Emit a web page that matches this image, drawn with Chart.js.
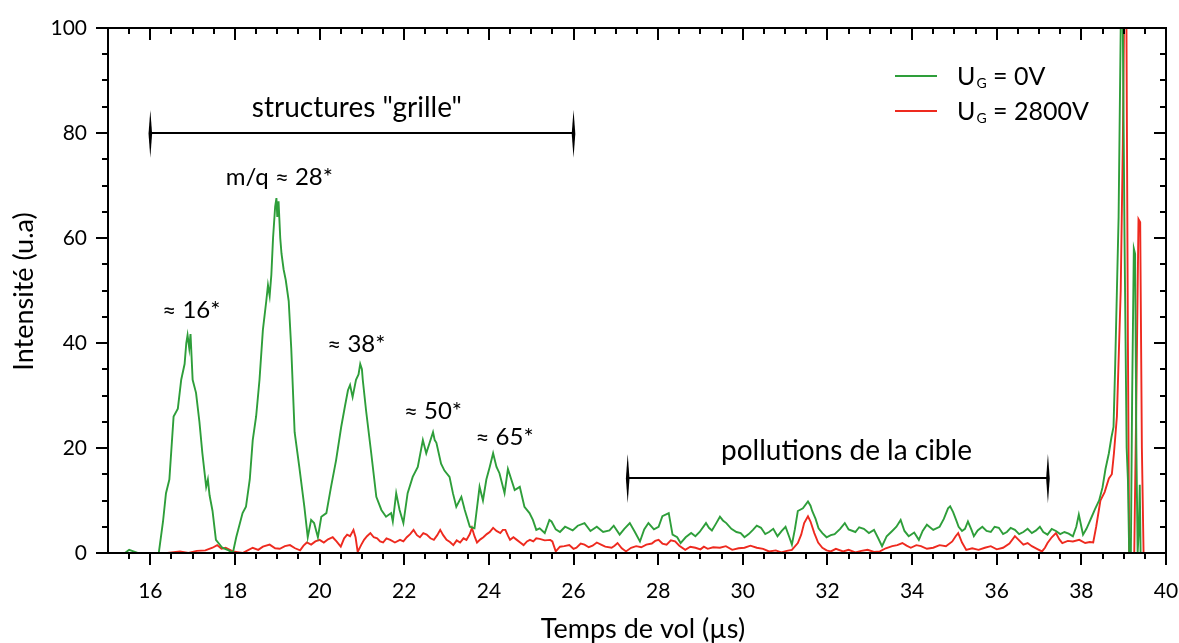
<!DOCTYPE html>
<html>
<head>
<meta charset="utf-8">
<script src="https://cdn.jsdelivr.net/npm/chart.js@4.4.1/dist/chart.umd.min.js"></script>
<style>
  html, body { margin: 0; padding: 0; background: #fff; }
  #c { display: block; }
</style>
</head>
<body>
<canvas id="c" width="1179" height="643" style="width:1179px;height:643px"></canvas>
<script>
/* ════════════════════════════════════
   DATA
════════════════════════════════════ */

const xTicks = [16, 18, 20, 22, 24, 26, 28, 30, 32, 34, 36, 38, 40];
const yTicks = [0, 20, 40, 60, 80, 100];

// U_G = 0V (green)
const greenT = [
  15.0, 15.4, 15.5, 15.6, 15.7, 16.2, 16.3, 16.37, 16.45, 16.55, 16.65, 16.73, 16.81, 16.85, 16.88, 16.92, 16.95, 17.0,
  17.08, 17.16, 17.23, 17.32, 17.36, 17.4, 17.47, 17.55, 17.7, 17.85, 17.95, 18.03, 18.18, 18.26, 18.35, 18.42, 18.5,
  18.58, 18.66, 18.74, 18.78, 18.82, 18.86, 18.9, 18.95, 18.98, 19.0, 19.03, 19.07, 19.1, 19.15, 19.2, 19.27, 19.33,
  19.41, 19.52, 19.64, 19.72, 19.8, 19.87, 19.96, 20.04, 20.16, 20.27, 20.39, 20.51, 20.6, 20.67, 20.72, 20.78, 20.86,
  20.92, 20.96, 21.0, 21.02, 21.1, 21.22, 21.34, 21.46, 21.57, 21.69, 21.73, 21.81, 21.89, 21.98, 22.08, 22.2, 22.32,
  22.44, 22.52, 22.6, 22.68, 22.72, 22.76, 22.87, 22.95, 23.07, 23.15, 23.23, 23.35, 23.43, 23.55, 23.66, 23.78, 23.86,
  23.94, 24.02, 24.1, 24.18, 24.25, 24.37, 24.45, 24.53, 24.61, 24.73, 24.84, 24.96, 25.04, 25.12, 25.2, 25.32, 25.43,
  25.48, 25.58, 25.68, 25.8, 25.98, 26.1, 26.26, 26.4, 26.55, 26.7, 26.85, 26.95, 27.09, 27.2, 27.33, 27.45, 27.57,
  27.67, 27.77, 27.9, 28.01, 28.1, 28.25, 28.34, 28.45, 28.53, 28.65, 28.78, 28.88, 28.98, 29.13, 29.2, 29.27, 29.36,
  29.46, 29.53, 29.61, 29.73, 29.85, 29.95, 30.04, 30.14, 30.24, 30.33, 30.43, 30.53, 30.62, 30.72, 30.82, 30.92, 31.01,
  31.1, 31.16, 31.23, 31.3, 31.42, 31.54, 31.6, 31.64, 31.72, 31.79, 31.88, 31.98, 32.08, 32.17, 32.3, 32.41, 32.5,
  32.66, 32.75, 32.86, 32.98, 33.1, 33.2, 33.29, 33.4, 33.53, 33.63, 33.73, 33.82, 33.92, 34.05, 34.16, 34.25, 34.35,
  34.5, 34.65, 34.75, 34.85, 34.9, 34.97, 35.04, 35.1, 35.18, 35.25, 35.32, 35.4, 35.46, 35.55, 35.66, 35.76, 35.86,
  35.95, 36.05, 36.15, 36.24, 36.33, 36.43, 36.53, 36.63, 36.73, 36.83, 36.93, 37.02, 37.1, 37.2, 37.3, 37.4, 37.5,
  37.6, 37.7, 37.8, 37.88, 37.94, 38.0, 38.04, 38.12, 38.18, 38.25, 38.32, 38.42, 38.5, 38.57, 38.65, 38.71, 38.76,
  38.8, 38.84, 38.88, 38.93, 38.97, 39.02, 39.07, 39.1, 39.13, 39.17, 39.2, 39.24, 39.27, 39.3, 39.33, 39.36, 39.38, 39.4
];
const greenV = [
  0, 0, 0.6, 0.3, 0, 0, 6, 11.4, 14, 26, 27.5, 33, 36, 40, 41.5, 39, 41.7, 33,
  30.5, 25, 19, 12.6, 14, 11, 8, 2.5, 1, 0.5, 0, 3, 7.6, 8.8, 14, 21.5, 26,
  33, 42.5, 48, 51, 49, 53, 60, 66, 67.6, 64, 67, 60, 57, 54, 52, 48, 39,
  23, 16.4, 8.8, 3, 6.3, 5.7, 3, 6.9, 7.6, 12.6, 17.7, 24, 28, 31, 32, 29.7, 33,
  34, 36, 35, 33, 27, 19, 10.7, 8.2, 6.9, 7.6, 6, 11.4, 8.2, 5.7, 11.4, 14.5, 16.4,
  21.5, 19, 21, 23, 21.5, 21, 17, 15.7, 14.5, 11.4, 8.8, 10.7, 8.2, 5, 4.7, 12.6, 10,
  14, 16.4, 19, 16.4, 15.2, 11.4, 16, 14, 12, 12.6, 8.8, 7.6, 6.3, 4.4, 4.7, 3.8, 6.3,
  6, 4.5, 4, 5, 4.3, 5.2, 5.7, 4.2, 5, 4, 4.3, 5.2, 3.5, 4.6, 5.7, 4, 2.2,
  4.5, 5.7, 4.5, 5, 7, 7.6, 3.5, 3, 1.9, 3, 3.8, 3.2, 4, 5.7, 4.8, 4.3, 5.5,
  6.9, 6.2, 5.7, 4.6, 4, 3.8, 3, 3.6, 4.4, 5.2, 4.8, 3.6, 4, 4.6, 3.2, 4.2, 5,
  3, 1.6, 4.5, 8, 8.5, 9.8, 9, 8, 6.5, 4.7, 3.8, 3, 3.4, 3.6, 4.6, 5.7, 4.5,
  4, 4.9, 4.6, 3.8, 4.4, 2.8, 1.3, 3.2, 4.2, 5, 6.3, 4.2, 3.2, 3.9, 2.5, 4.2, 5.4,
  4.4, 5, 6.5, 8.5, 8.9, 7.8, 6.3, 5, 4.2, 4.6, 6, 4.5, 3.2, 4.3, 5, 4.2, 4,
  5, 4.8, 3.6, 4, 4.8, 4.4, 3.6, 4, 4.6, 3.8, 4.3, 5, 4, 3.5, 4.6, 4.2, 3.6,
  4, 3.7, 3.2, 5, 7.3, 5, 3.5, 4.6, 5.7, 7, 8.3, 10, 12.5, 16, 19, 22, 24,
  36, 50, 64, 100, 110, 60, 20, 14, 0, 0, 30, 58, 57, 20, 0, 5, 13, 0
];

// U_G = 2800V (red)
const redT = [
  16.4, 16.7, 16.9, 17.1, 17.3, 17.47, 17.58, 17.68, 17.78, 17.95, 18.18, 18.3, 18.42, 18.55, 18.66, 18.82, 18.95,
  19.06, 19.18, 19.3, 19.42, 19.54, 19.62, 19.7, 19.8, 19.9, 20.0, 20.1, 20.2, 20.31, 20.4, 20.5, 20.58, 20.65, 20.72,
  20.8, 20.85, 20.9, 20.98, 21.05, 21.12, 21.2, 21.28, 21.36, 21.43, 21.5, 21.58, 21.67, 21.78, 21.9, 21.98, 22.06,
  22.14, 22.22, 22.3, 22.37, 22.45, 22.53, 22.62, 22.7, 22.78, 22.85, 22.92, 23.0, 23.08, 23.16, 23.24, 23.32, 23.4,
  23.47, 23.55, 23.6, 23.66, 23.72, 23.8, 23.87, 23.95, 24.02, 24.1, 24.18, 24.27, 24.33, 24.39, 24.45, 24.5, 24.58,
  24.66, 24.74, 24.82, 24.9, 24.97, 25.05, 25.12, 25.2, 25.32, 25.45, 25.5, 25.58, 25.68, 25.78, 25.9, 26.0, 26.07,
  26.17, 26.26, 26.36, 26.45, 26.55, 26.65, 26.75, 26.9, 26.97, 27.04, 27.14, 27.24, 27.36, 27.48, 27.6, 27.72, 27.85,
  27.93, 28.01, 28.1, 28.2, 28.3, 28.4, 28.5, 28.64, 28.76, 28.88, 29.0, 29.08, 29.17, 29.3, 29.46, 29.6, 29.75, 29.9,
  30.04, 30.18, 30.33, 30.48, 30.62, 30.78, 30.91, 31.04, 31.16, 31.3, 31.38, 31.45, 31.54, 31.6, 31.69, 31.78, 31.88,
  31.98, 32.08, 32.2, 32.37, 32.5, 32.66, 32.8, 32.95, 33.1, 33.24, 33.38, 33.53, 33.65, 33.77, 33.87, 33.97, 34.1,
  34.21, 34.35, 34.5, 34.65, 34.8, 34.95, 35.03, 35.09, 35.18, 35.28, 35.42, 35.57, 35.72, 35.86, 36.0, 36.15, 36.3,
  36.43, 36.53, 36.63, 36.73, 36.83, 36.95, 37.07, 37.14, 37.2, 37.3, 37.4, 37.48, 37.55, 37.68, 37.8, 37.95, 38.09,
  38.2, 38.28, 38.35, 38.45, 38.55, 38.65, 38.72, 38.77, 38.84, 38.93, 38.98, 39.02, 39.06, 39.1, 39.13, 39.25, 39.3,
  39.35, 39.39, 39.43, 39.47
];
const redV = [
  0, 0.3, 0, 0.4, 0.5, 1, 1.5, 0.8, 1, 0.3, 0, 0.5, 1, 0.6, 1.2, 1.6, 0.9,
  0.8, 1.3, 1.5, 0.9, 0.5, 1.4, 2, 1.6, 2.2, 2.5, 2, 2.6, 3, 2.2, 1.2, 2.8, 3.5, 3.2,
  4.4, 3, 0.2, 1.5, 2.5, 3.2, 3.8, 3, 2.8, 2.2, 2, 2.8, 2.5, 2, 2.5, 2.2, 3,
  3.6, 4.4, 3.4, 3, 3.8, 3.5, 2.8, 2.5, 3.4, 4.4, 3.4, 2.5, 2.1, 1.5, 2.4, 2, 2.8,
  2.5, 3.6, 4.8, 3.2, 2, 2.6, 3, 3.6, 4, 4.8, 4.2, 3.8, 4.4, 4.4, 3.3, 2.5, 3,
  2.5, 2, 1.5, 2.2, 2.5, 2.2, 2.8, 2.7, 2.4, 2.5, 2.2, 0.3, 1.2, 1.3, 1.5, 0.8, 1,
  1.8, 1.6, 1.1, 1.4, 2, 1.6, 1.2, 1, 1.4, 1.9, 0.9, 0.3, 1, 1.3, 1.1, 1.6, 1.8,
  2.3, 2.5, 1.8, 1.6, 2.4, 2.2, 1.4, 0.6, 1.2, 1, 0.7, 1.2, 0.8, 1.1, 1, 1.3, 0.6, 0.9,
  1, 1.4, 1, 0.8, 0.3, 0.5, 0.1, 0.4, 0.6, 1.9, 3.5, 5.7, 7, 6, 3.8, 2, 1,
  0.5, 0.3, 0.8, 0.3, 0.6, 0.1, 0.4, 0.6, 0.2, 0.3, 0.9, 1.3, 1.5, 1.9, 1.4, 1, 1.5,
  1.3, 0.8, 1, 1.5, 1.3, 2.2, 3.2, 3.8, 2, 0.6, 0.9, 0.6, 1, 1.3, 0.7, 1, 1.8,
  3.2, 2.4, 1.6, 1.9, 1.3, 0.8, 0.3, 1, 1.9, 3, 3.8, 2.6, 1.9, 2.3, 2.2, 2.5, 1.9,
  2.1, 2, 5, 10, 11.6, 14.2, 15, 19, 26, 50, 78, 110, 110, 40, 0, 0, 30,
  63.6, 63, 20, 0
];

// text labels placed in data coordinates [text, t, value(baseline)]
const peakLabels = [
  ['m/q ≈ 28*', 19.05, 70.1],
  ['≈ 16*', 16.97, 44.8],
  ['≈ 38*', 20.87, 38.3],
  ['≈ 50*', 22.68, 25.5],
  ['≈ 65*', 24.37, 20.6]
];
const brackets = [
  { text: 'structures "grille"', from: 16.0, to: 26.0, at: 80, capLo: 75.3, capHi: 84.4, textT: 20.88, textV: 83 },
  { text: 'pollutions de la cible', from: 27.28, to: 37.21, at: 14.3, capLo: 9.5, capHi: 18.9, textT: 32.45, textV: 17.7 }
];

const GREEN = '#2E9E3A';
const RED = '#EE2A1F';
const FONT = 'Lato, "Open Sans", sans-serif';

/* ════════════════════════════════════
   DECORATION PLUGIN
════════════════════════════════════ */

function capShape(ctx, px, yTop, yBot) {
  const mid = (yTop + yBot) / 2;
  ctx.beginPath();
  ctx.moveTo(px, yTop);
  ctx.lineTo(px + 1.8, mid);
  ctx.lineTo(px, yBot);
  ctx.lineTo(px - 1.8, mid);
  ctx.closePath();
  ctx.fill();
}

const decor = {
  id: 'decor',
  afterDraw(chart) {
    const { ctx, chartArea: a, scales: { x, y } } = chart;
    ctx.save();
    ctx.strokeStyle = '#000';
    ctx.fillStyle = '#000';

    // frame
    ctx.lineWidth = 2;
    ctx.strokeRect(a.left, a.top, a.right - a.left, a.bottom - a.top);

    // x ticks: bottom outward, top inward
    ctx.beginPath();
    for (let v = 15.5; v < 40.01; v += 0.5) {
      const px = Math.round(x.getPixelForValue(v));
      const len = (v % 2 === 0) ? 12 : 6;
      ctx.moveTo(px, a.bottom); ctx.lineTo(px, a.bottom + len);
      ctx.moveTo(px, a.top); ctx.lineTo(px, a.top + len);
    }
    // y ticks: left outward, right inward
    for (let v = 0; v <= 100; v += 5) {
      const py = Math.round(y.getPixelForValue(v));
      const len = (v % 20 === 0) ? 12 : 6;
      ctx.moveTo(a.left, py); ctx.lineTo(a.left - len, py);
      ctx.moveTo(a.right, py); ctx.lineTo(a.right - len, py);
    }
    ctx.stroke();

    // axis titles
    ctx.font = '27px ' + FONT;
    ctx.textAlign = 'center';
    ctx.textBaseline = 'alphabetic';
    ctx.fillText('Temps de vol (µs)', (a.left + a.right) / 2 + 6, 638);
    ctx.save();
    ctx.translate(33, (a.top + a.bottom) / 2 + 1);
    ctx.rotate(-Math.PI / 2);
    ctx.fillText('Intensité (u.a)', 0, 0);
    ctx.restore();

    // brackets
    brackets.forEach(b => {
      const x1 = x.getPixelForValue(b.from), x2 = x.getPixelForValue(b.to);
      const py = y.getPixelForValue(b.at);
      ctx.lineWidth = 2;
      ctx.beginPath();
      ctx.moveTo(x1, py); ctx.lineTo(x2, py);
      ctx.stroke();
      capShape(ctx, x1, y.getPixelForValue(b.capHi), y.getPixelForValue(b.capLo));
      capShape(ctx, x2, y.getPixelForValue(b.capHi), y.getPixelForValue(b.capLo));
      ctx.font = '28px ' + FONT;
      ctx.fillText(b.text, x.getPixelForValue(b.textT), y.getPixelForValue(b.textV));
    });

    // peak labels
    ctx.font = '24px ' + FONT;
    peakLabels.forEach(([txt, t, v]) => {
      ctx.fillText(txt, x.getPixelForValue(t), y.getPixelForValue(v));
    });

    // legend
    const rows = [[GREEN, '0V', 76, 85], [RED, '2800V', 111, 120]];
    rows.forEach(([col, val, ly, base]) => {
      ctx.strokeStyle = col;
      ctx.lineWidth = 2;
      ctx.beginPath();
      ctx.moveTo(895, ly); ctx.lineTo(937, ly);
      ctx.stroke();
      ctx.fillStyle = '#000';
      ctx.textAlign = 'left';
      ctx.font = '25px ' + FONT;
      let cx = 957;
      ctx.fillText('U', cx, base);
      cx += ctx.measureText('U').width + 1;
      ctx.font = '14px ' + FONT;
      ctx.fillText('G', cx, base + 3);
      cx += ctx.measureText('G').width;
      ctx.font = '25px ' + FONT;
      ctx.fillText(' = ' + val, cx, base);
    });
    ctx.restore();
  }
};

/* ════════════════════════════════════
   CHART
════════════════════════════════════ */

const toPts = (ts, vs) => ts.map((t, i) => ({ x: t, y: vs[i] }));
const noPad = s => { s.paddingLeft = 0; s.paddingRight = 0; s.paddingTop = 0; s.paddingBottom = 0; };

new Chart(document.getElementById('c').getContext('2d'), {
  type: 'line',
  data: {
    datasets: [
      { label: 'U_G = 0V', data: toPts(greenT, greenV), borderColor: GREEN, borderWidth: 1.9, pointRadius: 0, tension: 0 },
      { label: 'U_G = 2800V', data: toPts(redT, redV), borderColor: RED, borderWidth: 1.9, pointRadius: 0, tension: 0 }
    ]
  },
  options: {
    responsive: false,
    animation: false,
    events: [],
    layout: { padding: { left: 0, top: 28, right: 13, bottom: 0 } },
    plugins: { legend: { display: false }, tooltip: { enabled: false } },
    scales: {
      x: {
        type: 'linear', min: 15, max: 40,
        grid: { display: false, drawTicks: false },
        border: { display: false },
        afterBuildTicks: s => { s.ticks = xTicks.map(v => ({ value: v })); },
        afterFit: s => { s.height = 90; noPad(s); },
        ticks: { color: '#000', padding: 26, maxRotation: 0, font: { size: 21, family: FONT } }
      },
      y: {
        min: 0, max: 100,
        grid: { display: false, drawTicks: false },
        border: { display: false },
        afterBuildTicks: s => { s.ticks = yTicks.map(v => ({ value: v })); },
        afterFit: s => { s.width = 108; noPad(s); },
        ticks: { color: '#000', padding: 21, font: { size: 21, family: FONT } }
      }
    }
  },
  plugins: [decor]
});
</script>
</body>
</html>
